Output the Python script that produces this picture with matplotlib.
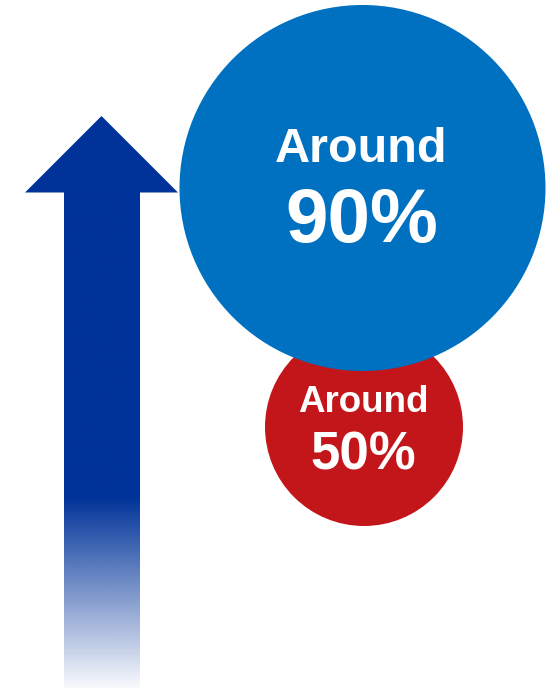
import numpy as np
import matplotlib.pyplot as plt
from matplotlib.patches import Circle, Polygon
from matplotlib.colors import to_rgb

# shares shown in the two circles
labels = ['Around', 'Around']
values = [90, 50]
colors = ['#0070C0', '#C3161A']

arrow_color = '#003399'

W, H = 559, 688
fig = plt.figure(figsize=(W / 100, H / 100), dpi=100)
ax = fig.add_axes([0, 0, 1, 1])
ax.set_xlim(0, W)
ax.set_ylim(H, 0)
ax.set_aspect('equal')
ax.axis('off')

# arrow head
head = Polygon([(25, 192.5), (101.5, 116), (178, 192.5)], closed=True,
               facecolor=arrow_color, edgecolor='none', zorder=2)
ax.add_patch(head)

# shaft with fade to white at bottom
ys = np.linspace(192, 688, 500)
alpha = np.clip((688 - ys) / (688 - 498), 0, 1)
alpha = 0.03 + 0.97 * alpha
rgba = np.zeros((len(ys), 1, 4))
rgba[:, 0, :3] = to_rgb(arrow_color)
rgba[:, 0, 3] = alpha
ax.imshow(rgba, extent=[63.5, 139.5, 688, 192], aspect='auto',
          interpolation='bilinear', zorder=2)
ax.set_xlim(0, W)
ax.set_ylim(H, 0)

# circles: (cx, cy, r)
geo = [(362.5, 188, 183), (364, 427, 99)]
z = [4, 3]
label_size = [35, 26.5]
value_size = [55, 38]
label_y = [162.5, 412.5]
value_y = [242, 469.5]

for i in range(len(values)):
    cx, cy, r = geo[i]
    ax.add_patch(Circle((cx, cy), r, facecolor=colors[i], edgecolor='none', zorder=z[i]))
    ax.text(cx - 1, label_y[i], labels[i], color='white', fontsize=label_size[i],
            fontweight='bold', family='Liberation Sans', ha='center',
            va='baseline', zorder=z[i] + 1)
    ax.text(cx - 1, value_y[i], f'{values[i]}%', color='white', fontsize=value_size[i],
            fontweight='bold', family='Liberation Sans', ha='center',
            va='baseline', zorder=z[i] + 1)

fig.savefig('out.png', dpi=100, facecolor='white')
